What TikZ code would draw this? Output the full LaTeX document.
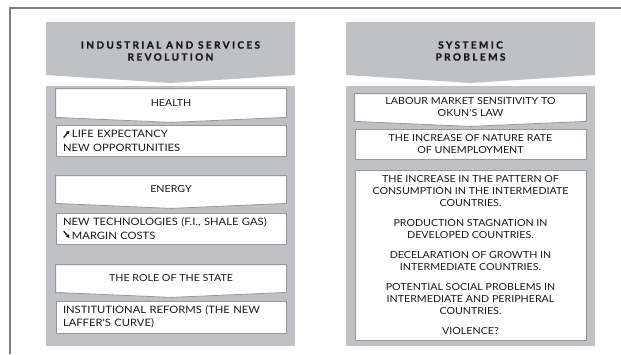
\documentclass[tikz,border=0pt]{standalone}
\usepackage{fontspec}
\setmainfont{Lato}
\usetikzlibrary{backgrounds,arrows.meta}

\definecolor{panelgray}{RGB}{192,193,197}
\definecolor{edgegray}{RGB}{150,151,155}
\definecolor{framegray}{RGB}{125,125,128}
\definecolor{textgray}{RGB}{25,25,25}

\newfontfamily\leftfont[FakeStretch=1.1]{Lato}
\newfontfamily\rightfont[FakeStretch=1.1]{Lato}
\newcommand\leftitemfont{\leftfont\fontsize{10.2}{13.5}\selectfont\color{textgray}}
\newcommand\rightitemfont{\rightfont\fontsize{9.7}{12}\selectfont\color{textgray}}
\newcommand\titlefont{\fontsize{10}{12}\selectfont\bfseries\addfontfeatures{LetterSpace=24,FakeBold=1.3}\color{textgray}}
% small fat arrows in front of a line
\newcommand\up{\tikz[baseline=-1pt] \draw [-{Latex[length=3.5pt,width=4pt]}, line width=1.3pt] (0pt,-1pt) -- (6pt,6pt);}
\newcommand\down{\tikz[baseline=-1pt] \draw [-{Latex[length=3.5pt,width=4pt]}, line width=1.3pt] (0pt,7pt) -- (6pt,0pt);}

\begin{document}
\begin{tikzpicture}[x=1pt, y=-1pt]
      \tikzset{
  title/.style={
    font=\titlefont,
    align=center,
    inner sep=0pt
  },
  item/.style={
    rectangle,
    fill=white,
    draw=edgegray,
    line width=0.8pt,
    minimum width=230pt,
    inner sep=0pt,
    font=\rightitemfont
  },
  item head/.style={
    item,
    fill=none,
    draw=none,
    align=center
  },
  item list/.style={
    item,
    align=left,
    inner xsep=7pt,
    text width=216pt,
    font=\leftitemfont
  },
  right item/.style={
    item,
    minimum width=231pt,
    align=center
  },
  tip/.style={
    fill=white,
    draw=edgegray,
    line width=0.8pt
  }
}

\useasboundingbox (0,0) rectangle (621,354);

% column titles
\foreach \c/\n/\t in {170.5/l/{INDUSTRIAL AND SERVICES\\REVOLUTION}, 470.5/r/{SYSTEMIC\\PROBLEMS}}
  \node [title] (title-\n) at (\c,51) {\t};

% left column
\node [item head, minimum height=28pt] (health) at (171,103) {HEALTH};
\node [item list, minimum height=31pt] (life) at (171,140.5)
  {\up\,LIFE EXPECTANCY\\NEW OPPORTUNITIES};
\node [item head, minimum height=27pt] (energy) at (171,189.5) {ENERGY};
\node [item list, minimum height=31pt] (tech) at (171,228.5)
  {NEW TECHNOLOGIES (F.I., SHALE GAS)\\\down\,MARGIN COSTS};
\node [item head, minimum height=27pt] (state) at (171,278.5) {THE ROLE OF THE STATE};
\node [item list, minimum height=32pt] (reforms) at (171,317)
  {INSTITUTIONAL REFORMS (THE NEW\\LAFFER'S CURVE)};

% right column
\node [item head, minimum width=231pt, minimum height=27pt] (okun) at (470.5,107.5)
  {LABOUR MARKET SENSITIVITY TO\\OKUN'S LAW};
\node [right item, minimum height=30pt] (nature) at (470.5,144)
  {THE INCREASE OF NATURE RATE\\OF UNEMPLOYMENT};
\node [right item, minimum height=170pt] (problems) at (470.5,255)
  {THE INCREASE IN THE PATTERN OF\\CONSUMPTION IN THE INTERMEDIATE\\COUNTRIES.\\[8pt]
   PRODUCTION STAGNATION IN\\DEVELOPED COUNTRIES.\\[8pt]
   DECELARATION OF GROWTH IN\\INTERMEDIATE COUNTRIES.\\[8pt]
   POTENTIAL SOCIAL PROBLEMS IN\\INTERMEDIATE AND PERIPHERAL\\COUNTRIES.\\[8pt]
   VIOLENCE?};

\begin{scope}[on background layer]
  % frame, open to the right and below
  \draw [framegray, line width=1.3pt] (621,8) -- (10,8) -- (10,354);

  % grey title chevrons and panels
  \foreach \c in {170.5,470.5} {
    \fill [panelgray] (\c-124.5,22) -- ++(249,0) -- ++(0,53)
      -- ++(-124.5,8) -- ++(-124.5,-8) -- cycle;
    \fill [panelgray] (\c-124.5,86) rectangle ++(249,260);
  }

  % white boxes with a pointed bottom
  \foreach \n in {health,energy,state,okun}
    \filldraw [tip] (\n.north west) -- (\n.north east) -- (\n.south east)
      -- ([yshift=-5pt]\n.south) -- (\n.south west) -- cycle;
\end{scope}
      \end{tikzpicture}
\end{document}
